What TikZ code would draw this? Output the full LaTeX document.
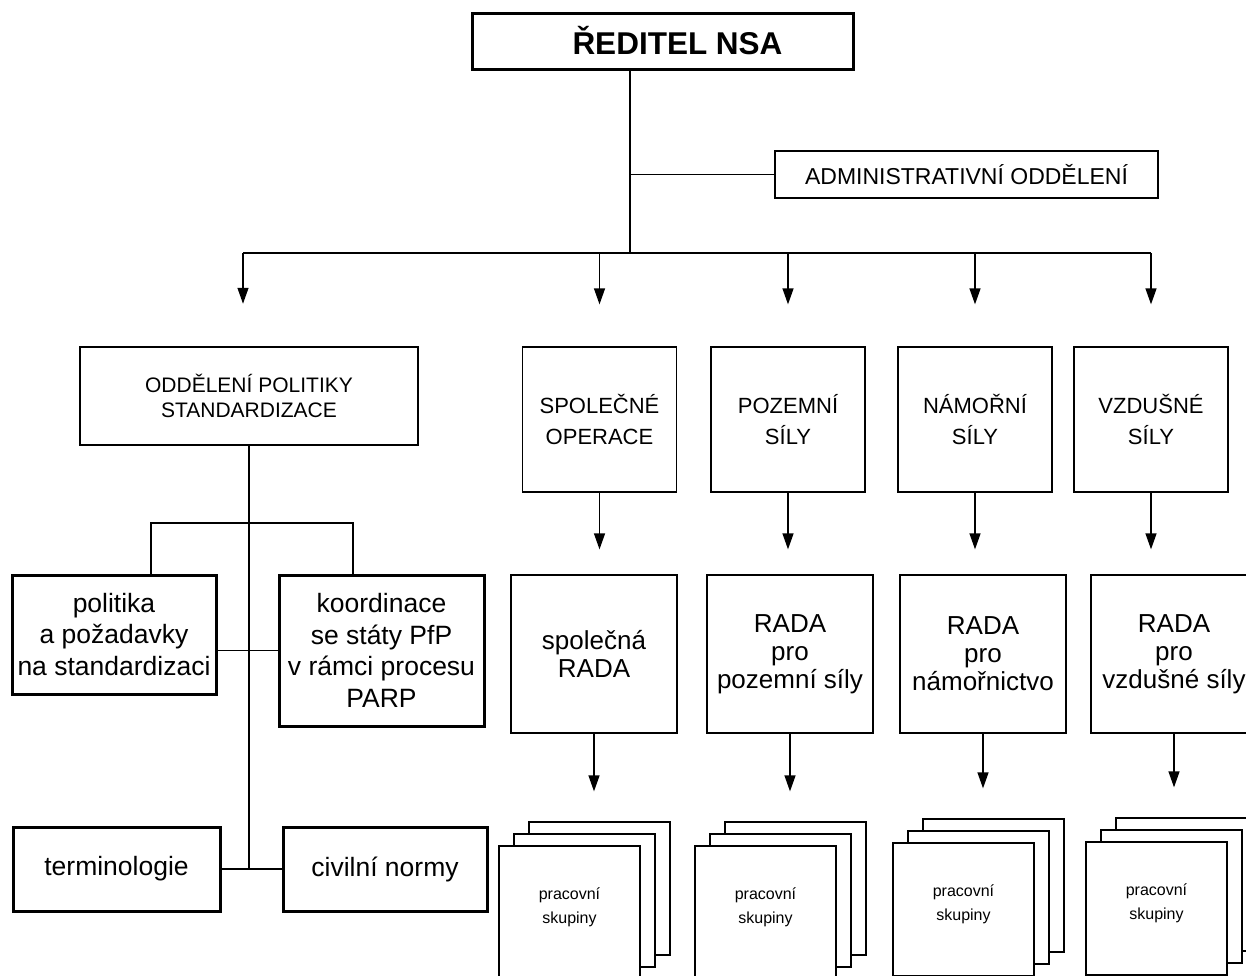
\documentclass[tikz,border=0pt]{standalone}
\usepackage{fontspec}
\setmainfont{Liberation Sans}
\usetikzlibrary{arrows.meta}
\newcommand*{\fsz}[2]{\fontsize{#1}{#2}\selectfont}
\tikzset{
  >={Triangle[length=16pt,width=11pt]},
  box/.style={draw,rectangle,inner sep=0pt,align=center,line width=1.3pt},
  box thick/.style={box,line width=3pt},
  box mid/.style={box,line width=2.5pt},
  col/.style={box,minimum width=154pt,minimum height=145pt,font=\fsz{22}{31}},
  rada/.style={box,minimum width=166pt,minimum height=158pt,font=\fsz{26}{28}},
  sheet/.style={box,fill=white,minimum width=141pt,minimum height=133pt},
  side/.style={box thick,font=\fsz{26.5}{31.5}},
  link/.style={line width=1.3pt},
  link arrow/.style={->,line width=1.3pt}
}

\begin{document}
\begin{tikzpicture}[x=1pt,y=-1pt]
  \useasboundingbox (0,0) rectangle (1246,975);

  % Director and administration
  \node[box thick,minimum width=381pt,minimum height=56pt,font=\bfseries\fsz{31.5}{36}] (dir) at (662.5,41) {\hspace*{30pt}ŘEDITEL NSA};
  \node[box mid,minimum width=383pt,minimum height=47pt,font=\fsz{23}{27}] (adm) at (966.5,174.5) {ADMINISTRATIVNÍ ODDĚLENÍ};
  \coordinate (trunk) at (630,253);
  \coordinate (busL) at (243,253);

  % Departments
  \node[box mid,minimum width=338pt,minimum height=98pt,font=\fsz{21}{25}] (opol) at (249,396) {ODDĚLENÍ POLITIKY\\STANDARDIZACE};
  \node[col] (c1) at (599.5,419.5) {SPOLEČNÉ\\OPERACE};
  \node[col] (c2) at (788,419.5) {POZEMNÍ\\SÍLY};
  \node[col] (c3) at (975,419.5) {NÁMOŘNÍ\\SÍLY};
  \node[col] (c4) at (1151,419.5) {VZDUŠNÉ\\SÍLY};

  % Boards
  \node[rada] (r1) at (594,654) {společná\\RADA};
  \node[rada] (r2) at (790,654) {RADA\\pro\\pozemní síly};
  \node[rada] (r3) at (983,654) {RADA\\pro\\námořnictvo};
  \node[rada] (r4) at (1174,654) {RADA\\pro\\vzdušné síly};

  % Working groups (stacked sheets)
  \foreach \n/\x/\y in {1/569.5/912.5, 2/765.5/912.5, 3/963.5/909.5, 4/1156.5/908.5} {
    \node[sheet] (ws\n c) at (\x+30,\y-24) {};
    \node[sheet] (ws\n b) at (\x+15,\y-12) {};
    \node[sheet,font=\fsz{16}{24}] (ws\n a) at (\x,\y) {pracovní\\skupiny\\[-10pt]};
  }

  % Policy sections
  \node[side,minimum width=204pt,minimum height=119pt] (pol) at (114,634.5) {politika\\a požadavky\\na standardizaci};
  \node[side,minimum width=205pt,minimum height=151pt] (koord) at (381.5,650.5) {koordinace\\se státy PfP\\v rámci procesu\\PARP};
  \node[side,minimum width=207pt,minimum height=84pt] (term) at (116.5,869) {terminologie};
  \node[side,minimum width=204pt,minimum height=84pt] (civ) at (385,869) {civilní normy};
  \coordinate (forkL) at (151,523);
  \coordinate (forkR) at (353,523);

  % Connectors from the director
  \draw[link] (dir.south -| trunk) -- (trunk);
  \draw[link] (trunk |- adm.west) -- (adm.west);
  \draw[link] (busL) -- (c4.north |- busL);
  \draw[link arrow,shorten >=42pt] (busL) -- (busL |- opol.north);
  \foreach \n in {1,...,4} {
    \draw[link arrow,shorten >=42pt] (c\n.north |- busL) -- (c\n.north);
    \draw[link arrow,shorten >=25pt] (c\n.south) -- (c\n.south |- r\n.north);
    \draw[link arrow,shorten >=30pt] (r\n.south) -- (r\n.south |- ws\n c.north);
  }

  % Connectors in the policy branch
  \draw[link] (opol.south) -- (opol.south |- term.east);
  \draw[link] (term.east) -- (civ.west);
  \draw[link] (forkL |- pol.north) -- (forkL) -- (forkR) -- (forkR |- koord.north);
  \draw[link] (pol.east |- koord.west) -- (koord.west);

\end{tikzpicture}
\end{document}
